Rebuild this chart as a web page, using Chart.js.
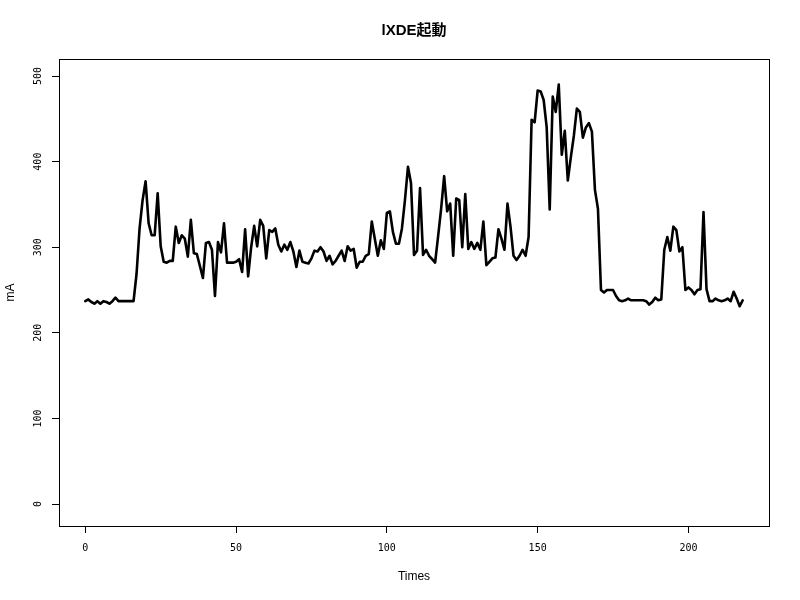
<!DOCTYPE html>
<html>
<head>
<meta charset="utf-8">
<script src="https://cdn.jsdelivr.net/npm/chart.js@4"></script>
<style>
  html, body { margin: 0; padding: 0; background: #fff; }
  #wrap { width: 800px; height: 600px; }
</style>
</head>
<body>
<div id="wrap"><canvas id="chart"></canvas></div>
<script>
// current draw (mA), one sample per time step
var current = [
  237, 239, 236, 234, 237, 234, 237, 236, 234, 237,
  241, 237, 237, 237, 237, 237, 237, 269, 322, 355,
  377, 328, 314, 314, 363, 301, 283, 282, 284, 284,
  324, 305, 314, 310, 289, 332, 293, 292, 278, 264,
  305, 306, 297, 243, 306, 294, 328, 282, 282, 282,
  283, 286, 271, 321, 266, 300, 325, 301, 332, 325,
  287, 320, 318, 322, 303, 295, 303, 297, 306, 295,
  277, 296, 283, 282, 281, 287, 296, 295, 300, 295,
  284, 290, 280, 284, 290, 296, 284, 301, 296, 298,
  276, 283, 283, 290, 292, 330, 310, 290, 308, 298,
  340, 342, 318, 304, 304, 322, 355, 394, 375, 291,
  296, 369, 291, 297, 290, 286, 282, 313, 345, 383,
  342, 351, 290, 357, 355, 300, 362, 298, 306, 298,
  305, 297, 330, 279, 283, 287, 288, 321, 310, 297,
  351, 324, 290, 285, 290, 297, 290, 312, 449, 446,
  483, 482, 472, 440, 344, 476, 458, 490, 408, 436,
  378, 405, 430, 462, 458, 428, 440, 445, 435, 367,
  345, 250, 247, 250, 250, 250, 243, 238, 237, 238,
  240, 238, 238, 238, 238, 238, 237, 233, 236, 241,
  238, 239, 297, 312, 296, 324, 320, 295, 300, 250,
  253, 250, 245, 250, 251, 341, 251, 237, 237, 240,
  238, 237, 238, 240, 237, 248, 240, 231, 238
];
var times = current.map(function (v, i) { return i; });
var xTicks = [0, 50, 100, 150, 200];
var yTicks = [0, 100, 200, 300, 400, 500];

var tickFont = '"DejaVu Sans Mono", monospace';
var textFont = '"Liberation Sans", "Noto Sans CJK JP", sans-serif';

Chart.defaults.color = "#000";

// R-style frame around the plot and vertical y tick labels
var rFrame = {
  id: "rFrame",
  afterDraw: function (chart) {
    var ctx = chart.ctx, a = chart.chartArea, y = chart.scales.y;
    ctx.save();
    ctx.strokeStyle = "#000";
    ctx.lineWidth = 1;
    ctx.strokeRect(Math.round(a.left) + 0.5, Math.round(a.top) + 0.5,
      Math.round(a.right - a.left), Math.round(a.bottom - a.top));
    ctx.font = "10px " + tickFont;
    ctx.fillStyle = "#000";
    ctx.textAlign = "center";
    ctx.textBaseline = "middle";
    yTicks.forEach(function (v) {
      ctx.save();
      ctx.translate(38, y.getPixelForValue(v));
      ctx.rotate(-Math.PI / 2);
      ctx.fillText(String(v), 0, 0);
      ctx.restore();
    });
    ctx.restore();
  }
};

new Chart(document.getElementById("chart"), {
  type: "line",
  data: {
    datasets: [{
      data: times.map(function (t, i) { return { x: t, y: current[i] }; }),
      borderColor: "#000",
      borderWidth: 2.6,
      borderJoinStyle: "round",
      borderCapStyle: "round",
      pointRadius: 0,
      tension: 0,
      fill: false
    }]
  },
  options: {
    responsive: true,
    maintainAspectRatio: false,
    animation: false,
    layout: { padding: { left: 0, right: 31, top: 0, bottom: 0 } },
    plugins: {
      legend: { display: false },
      tooltip: { enabled: false },
      title: {
        display: true,
        fullSize: false,
        text: "lXDE起動",
        font: { family: textFont, size: 15, weight: "bold" },
        padding: { top: 22, bottom: 19 }
      }
    },
    scales: {
      x: {
        type: "linear",
        min: -8.72,
        max: 226.72,
        afterBuildTicks: function (s) { s.ticks = xTicks.map(function (v) { return { value: v }; }); },
        afterFit: function (s) { s.height = 74; },
        grid: { drawOnChartArea: false, drawTicks: true, tickLength: 7, color: "#000" },
        border: { display: false },
        ticks: { font: { family: tickFont, size: 10 }, padding: 9, maxRotation: 0 },
        title: {
          display: true,
          text: "Times",
          font: { family: textFont, size: 12 },
          padding: { top: 0, bottom: 16 }
        }
      },
      y: {
        min: -25.7,
        max: 519.9,
        afterBuildTicks: function (s) { s.ticks = yTicks.map(function (v) { return { value: v }; }); },
        afterFit: function (s) { s.width = 59; },
        grid: { drawOnChartArea: false, drawTicks: true, tickLength: 7, color: "#000" },
        border: { display: false },
        ticks: { display: false },
        title: {
          display: true,
          text: "mA",
          font: { family: textFont, size: 12 },
          padding: { top: 3, bottom: 0 }
        }
      }
    }
  },
  plugins: [rFrame]
});
</script>
</body>
</html>
